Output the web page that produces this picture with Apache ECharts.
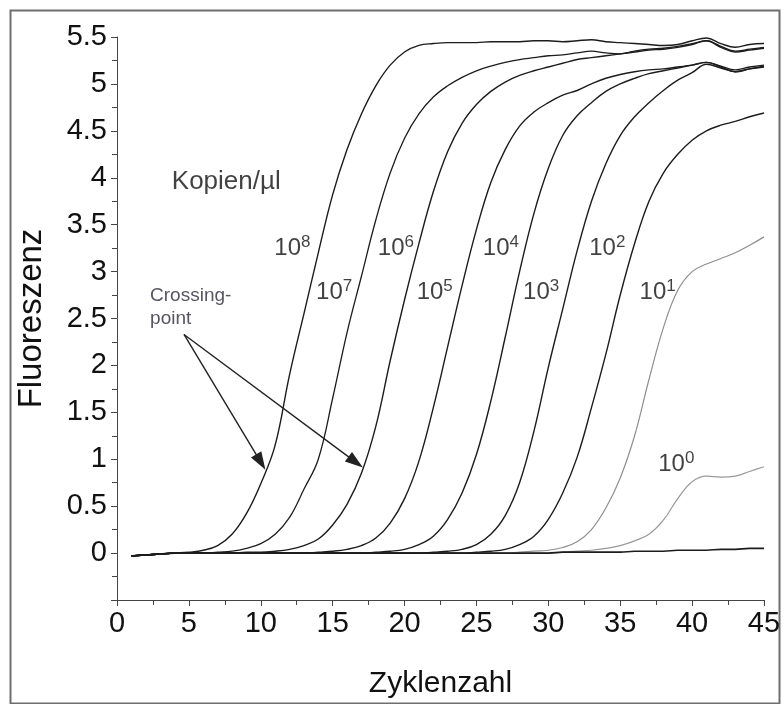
<!DOCTYPE html>
<html><head><meta charset="utf-8">
<script src="https://cdn.jsdelivr.net/npm/echarts@6/dist/echarts.min.js"></script>
<style>html,body{margin:0;padding:0;background:#fff}#c{width:784px;height:704px}</style>
</head><body><div id="c"></div>
<script>
var cycles = [1,2,3,4,5,6,7,8,9,10,11,12,13,14,15,16,17,18,19,20,21,22,23,24,25,26,27,28,29,30,31,32,33,34,35,36,37,38,39,40,41,42,43,44,45];
var xTicks = [0,5,10,15,20,25,30,35,40,45];
var yTicks = [0,0.5,1,1.5,2,2.5,3,3.5,4,4.5,5,5.5];
var c8 = [-0.03,-0.02,-0.01,0,0.01,0.03,0.08,0.2,0.42,0.74, 1.15,1.9,2.55,3.2,3.82,4.3,4.68,4.98,5.2,5.34, 5.41,5.43,5.44,5.44,5.44,5.45,5.45,5.45,5.46,5.46, 5.45,5.46,5.47,5.45,5.44,5.43,5.42,5.41,5.42,5.46, 5.49,5.43,5.39,5.42,5.43];
var c7 = [-0.03,-0.02,-0.01,0,0,0,0.01,0.02,0.05,0.1, 0.2,0.38,0.68,1.0,1.65,2.35,2.95,3.55,4.05,4.42, 4.68,4.86,4.98,5.07,5.14,5.19,5.23,5.26,5.28,5.3, 5.31,5.33,5.35,5.33,5.32,5.35,5.37,5.38,5.4,5.43, 5.46,5.4,5.35,5.37,5.39];
var c6 = [-0.03,-0.02,-0.01,0,0,0,0,0,0.01,0.01, 0.02,0.04,0.08,0.15,0.3,0.52,0.85,1.35,2.05,2.7, 3.3,3.85,4.28,4.58,4.78,4.92,5.02,5.09,5.14,5.18, 5.22,5.26,5.28,5.3,5.32,5.34,5.36,5.37,5.39,5.42, 5.46,5.39,5.34,5.36,5.38];
var c5 = [-0.03,-0.02,-0.01,0,0,0,0,0,0,0, 0,0,0,0.01,0.02,0.04,0.08,0.16,0.32,0.58, 0.98,1.55,2.2,2.85,3.45,3.95,4.3,4.55,4.7,4.8, 4.88,4.93,5.0,5.06,5.1,5.13,5.15,5.16,5.18,5.2, 5.23,5.19,5.15,5.18,5.2];
var c4 = [-0.03,-0.02,-0.01,0,0,0,0,0,0,0, 0,0,0,0,0,0,0,0.01,0.02,0.04, 0.09,0.18,0.36,0.64,1.05,1.62,2.3,3.0,3.62,4.1, 4.45,4.66,4.8,4.92,5.0,5.06,5.11,5.14,5.17,5.2, 5.23,5.18,5.13,5.16,5.18];
var c3 = [-0.03,-0.02,-0.01,0,0,0,0,0,0,0, 0,0,0,0,0,0,0,0,0,0, 0,0.01,0.02,0.04,0.09,0.2,0.4,0.75,1.3,1.98, 2.6,3.22,3.75,4.15,4.45,4.65,4.8,4.93,5.04,5.12, 5.21,5.17,5.13,5.16,5.19];
var c2 = [-0.03,-0.02,-0.01,0,0,0,0,0,0,0, 0,0,0,0,0,0,0,0,0,0, 0,0,0,0,0.01,0.02,0.04,0.09,0.18,0.36, 0.64,1.02,1.55,2.12,2.75,3.3,3.75,4.05,4.25,4.4, 4.5,4.56,4.6,4.65,4.69];
var c1 = [-0.03,-0.02,-0.01,0,0,0,0,0,0,0, 0,0,0,0,0,0,0,0,0,0, 0,0,0,0,0,0,0,0.01,0.02,0.03, 0.06,0.12,0.25,0.48,0.8,1.25,1.85,2.4,2.8,3.0, 3.08,3.14,3.2,3.28,3.37];
var c0 = [-0.03,-0.02,-0.01,0,0,0,0,0,0,0, 0,0,0,0,0,0,0,0,0,0, 0,0,0,0,0,0,0,0,0,0, 0.01,0.02,0.03,0.05,0.08,0.13,0.2,0.35,0.58,0.76, 0.82,0.81,0.82,0.87,0.92];
var neg = [-0.03,-0.02,-0.01,0,0,0,0,0,0,0, 0,0,0,0,0,0,0,0,0,0, 0,0,0,0,0,0,0,0,0,0, 0.01,0.01,0.01,0.01,0.01,0.02,0.02,0.02,0.03,0.03, 0.03,0.04,0.04,0.05,0.05];
var exps = ['8','7','6','5','4','3','2','1','0'];

function pairs(v){ return cycles.map(function(c,i){ return [c, v[i]]; }); }

var chart = echarts.init(document.getElementById('c'), null, {renderer:'canvas'});
var FONT = 'Liberation Sans, Arial, sans-serif';
var dark = '#1c1c1c';
var curves = [
  {d:c1, col:'#8f8f8f', w:1.2},
  {d:c0, col:'#9a9a9a', w:1.2},
  {d:c8, col:dark, w:1.4},
  {d:c7, col:dark, w:1.3},
  {d:c6, col:dark, w:1.4},
  {d:c5, col:dark, w:1.4},
  {d:c4, col:dark, w:1.4},
  {d:c3, col:dark, w:1.4},
  {d:c2, col:dark, w:1.4},
  {d:neg, col:dark, w:1.6}
];
var series = curves.map(function(c){
  return {type:'line', data:pairs(c.d), symbol:'none', smooth:0.4,
    lineStyle:{color:c.col, width:c.w}, silent:true, z:2};
});
var rich = {
  b:{fontSize:24, fontFamily:FONT, color:'#111'},
  s:{fontSize:17, fontFamily:FONT, color:'#111', padding:[0,0,12,0]}
};
// annotation positions in data coordinates
var labelPos = [[12.2,3.25],[15.1,2.78],[19.4,3.25],[22.1,2.78],[26.7,3.25],[29.5,2.78],[34.1,3.25],[37.6,2.78],[38.9,0.95]];
series.push({
  type:'scatter', symbolSize:0, silent:true, z:5,
  data: labelPos.map(function(p,i){ return {value:p, name:exps[i]}; }),
  label:{show:true, position:'inside', formatter:function(p){ return '{b|10}{s|'+p.name+'}'; }, rich:rich}
});
series.push({
  type:'scatter', symbolSize:0, silent:true, z:5,
  data:[{value:[7.6,3.96], name:'Kopien/µl'}],
  label:{show:true, position:'inside', formatter:'{b}', fontSize:26, fontFamily:FONT, color:'#111'}
});
series.push({
  type:'scatter', symbolSize:0, silent:true, z:5,
  data:[{value:[2.3,2.62], name:'Crossing-\npoint'}],
  label:{show:true, position:'inside', align:'left', formatter:'{b}', fontSize:19, lineHeight:23, fontFamily:FONT, color:'#2a2a3a'}
});
series.push({
  type:'line', data:[], silent:true, z:4,
  markLine:{silent:true, animation:false, symbol:['none','triangle'], symbolSize:[12,18],
    label:{show:false}, lineStyle:{color:'#222', width:1.4, type:'solid'},
    data:[
      [{coord:[4.66,2.33]},{coord:[10.0,0.97]}],
      [{coord:[4.66,2.33]},{coord:[16.6,0.97]}]
    ]}
});

chart.setOption({
  animation:false,
  backgroundColor:'#fff',
  grid:{left:117, right:20, top:37, bottom:100, containLabel:false},
  xAxis:{type:'value', min:0, max:45, interval:5,
    name:'Zyklenzahl', nameLocation:'middle', nameGap:69,
    nameTextStyle:{fontSize:30, fontFamily:FONT, color:'#111'},
    axisLine:{show:true, onZero:false, lineStyle:{color:'#444', width:1}},
    axisTick:{show:true, inside:false, length:6, lineStyle:{color:'#444'}},
    minorTick:{show:true, splitNumber:2, length:5, lineStyle:{color:'#444'}},
    splitLine:{show:false},
    axisLabel:{fontSize:29, fontFamily:FONT, color:'#111', margin:9,
      formatter:function(v){ return xTicks.indexOf(v)>=0 ? String(v) : ''; }}
  },
  yAxis:{type:'value', min:-0.5, max:5.5, interval:0.5,
    name:'Fluoreszenz', nameLocation:'middle', nameGap:69, nameRotate:90,
    nameTextStyle:{fontSize:33, fontFamily:FONT, color:'#111'},
    axisLine:{show:true, onZero:false, lineStyle:{color:'#444', width:1}},
    axisTick:{show:true, inside:false, length:6, lineStyle:{color:'#444'}},
    minorTick:{show:true, splitNumber:2, length:5, lineStyle:{color:'#444'}},
    splitLine:{show:false},
    axisLabel:{fontSize:29, fontFamily:FONT, color:'#111', margin:10,
      formatter:function(v){ var r=Math.round(v*10)/10; return yTicks.indexOf(r)>=0 ? String(r) : ''; }}
  },
  graphic:[{type:'rect', left:8, top:8, shape:{width:769, height:693}, silent:true,
    style:{fill:'none', stroke:'#6e6e6e', lineWidth:2}}],
  series:series
});
</script></body></html>
